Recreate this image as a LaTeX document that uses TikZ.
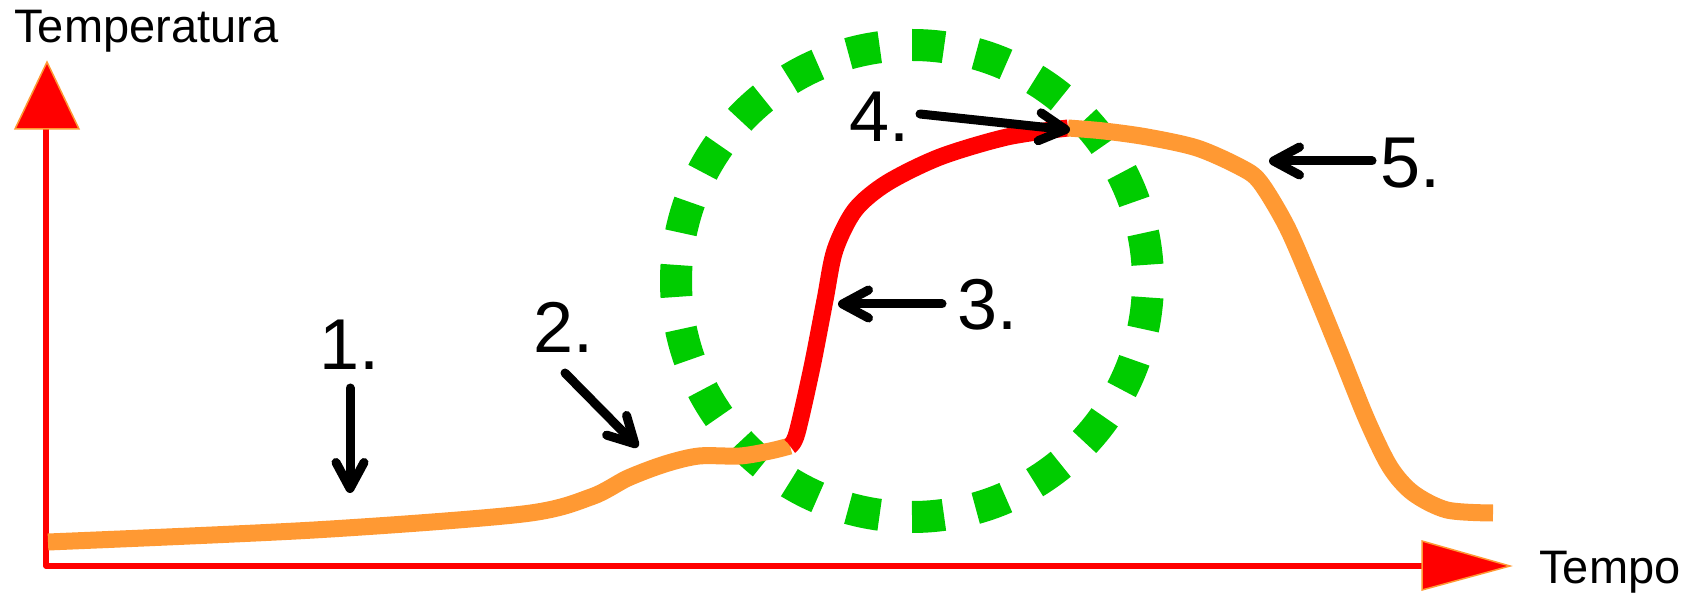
\documentclass[tikz,border=0pt]{standalone}
\usepackage{fontspec}
\setmainfont{Liberation Sans}
\usetikzlibrary{arrows.meta}
\definecolor{curveorange}{RGB}{255,153,51}
\definecolor{ringgreen}{RGB}{0,204,0}
\tikzset{
	pointer/.style={-{Straight Barb[round,length=13pt,width=14pt]}, line width=4.5pt, line cap=round},
	numlabel/.style={anchor=base west, inner sep=0pt, font=\fontsize{36}{40}\selectfont},
	axislabel/.style={anchor=base west, inner sep=0pt, font=\fontsize{23.5}{26}\selectfont},
	axistip/.style={fill=red, draw=curveorange, line width=0.75pt, line join=miter},
	curve/.style={line width=8.5pt},
}
\begin{document}
\begin{tikzpicture}[x=0.5pt, y=-0.5pt, line join=round]
				\useasboundingbox (0,0) rectangle (1688,593);
				\coordinate (O) at (46,566);
				\coordinate (Ytop) at (46,129);
				\coordinate (Xend) at (1422,566);
				\coordinate (R) at (912,281);
				
				\coordinate (P1) at (790,446);
				\coordinate (P2) at (1068,128);
				
				% dotted ring
				\draw[ringgreen, line width=16pt, dash pattern=on 16pt off 16.235pt, dash phase=24.1pt] (R) circle[radius=118pt];
				
				% axes
				\draw[red, line width=2.75pt] (Ytop) -- (O) -- (Xend);
				\filldraw[axistip] (47,62) -- (79,129) -- (15,129) -- cycle;
				\filldraw[axistip] (1510,566) -- (1422,590) -- (1422,541) -- cycle;
				
				% curve
				\draw[curveorange, curve] plot[smooth] coordinates {(48,542) (314,530) (523,514) (591,497) (628,478) (665,464) (699,456) (740,456) (770,451) (P1)};
				\draw[red, curve] plot[smooth] coordinates {(P1) (797,433) (812,367) (825,300) (835,250) (855,210) (887,183) (940,157) (1007,137) (P2)};
				\draw[curveorange, curve] plot[smooth] coordinates {(P2) (1104,131) (1147,137) (1197,148) (1240,167) (1260,182) (1287,227) (1313,287) (1340,353) (1367,420) (1390,467) (1413,493) (1447,510) (1493,513)};
				
				\node[axislabel] (ylab) at (14,43) {Temperatura};
				\node[axislabel] (xlab) at (1539,583) {Tempo};
				
				\node[numlabel] (n1) at (319,370) {1.};
				\node[numlabel] (n2) at (533,353) {2.};
				\node[numlabel] (n3) at (957,330) {3.};
				\node[numlabel] (n4) at (849,142) {4.};
				\node[numlabel] (n5) at (1380,188) {5.};
				
				\coordinate (A1) at (350,388);
				\coordinate (B1) at (350,493);
				\coordinate (A2) at (565,373);
				\coordinate (B2) at (638,447);
				\coordinate (A3) at (942,304);
				\coordinate (B3) at (838,304);
				\coordinate (A4) at (920,114);
				\coordinate (B4) at (1070,130);
				\coordinate (A5) at (1372,161);
				\coordinate (B5) at (1269,161);
				
				\draw[pointer] (A1) -- (B1);
				\draw[pointer] (A2) -- (B2);
				\draw[pointer] (A3) -- (B3);
				\draw[pointer] (A4) -- (B4);
				\draw[pointer] (A5) -- (B5);
			\end{tikzpicture}
\end{document}
